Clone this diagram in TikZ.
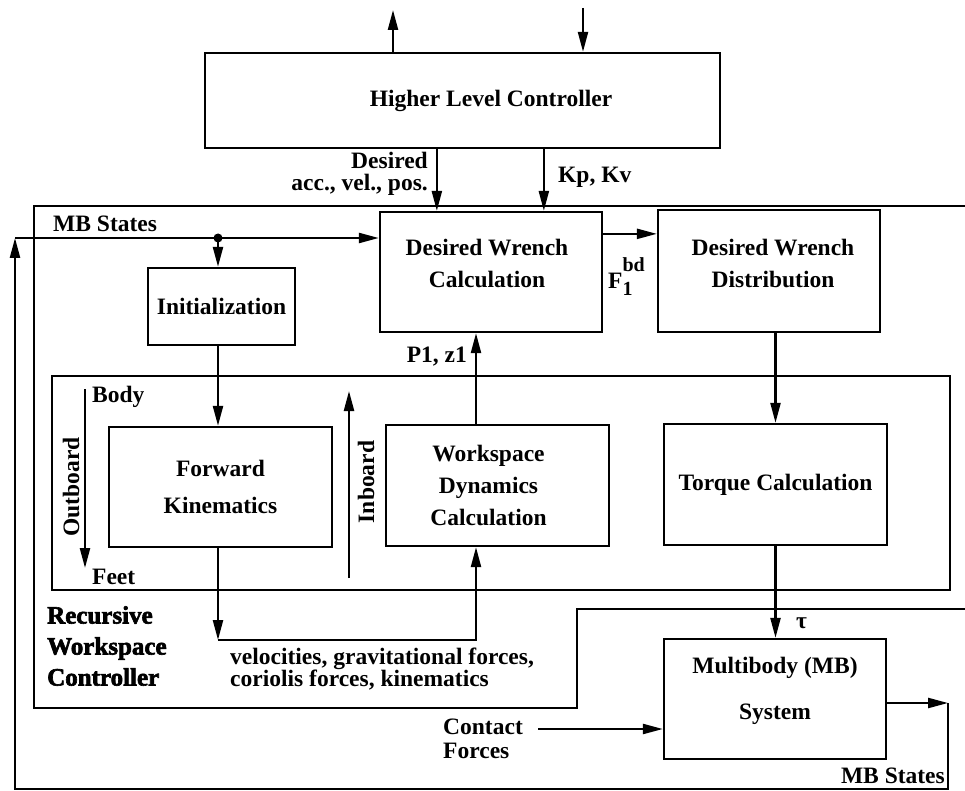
\documentclass[tikz,border=0pt]{standalone}
\usepackage{fontspec}
\setmainfont{Liberation Serif}
\newfontfamily\scanfont{Liberation Serif Bold}
\newfontfamily\headfont{Liberation Serif Bold}[FakeBold=2.5]
\usetikzlibrary{arrows.meta}

\newcommand{\boxfont}{\scanfont\fontsize{23.5}{32}\selectfont}
\newcommand{\notefont}{\scanfont\fontsize{23.5}{22}\selectfont}

\tikzset{
  block/.style={draw, line width=2.3pt, inner sep=0pt, align=center, font=\boxfont},
  boxtext/.style={inner sep=0pt, align=center, font=\boxfont},
  note/.style={inner sep=0pt, font=\notefont},
  sig/.style={line width=2.3pt, -{Triangle[length=20pt,width=10pt]}},
  wire/.style={line width=2.3pt},
}

\begin{document}
\begin{tikzpicture}[x=1pt, y=-1pt]
  \path[fill=white] (0,0) rectangle (965,791);
  \useasboundingbox (0,0) rectangle (965,791);

  % blocks
  \node[block, minimum width=515, minimum height=95,
        label={[boxtext, xshift=28.5]center:Higher Level Controller}] (hlc) at (462.5,100.5) {};
  \node[block, minimum width=222, minimum height=120,
        label={[boxtext, yshift=9, xshift=-4]center:{Desired Wrench\\Calculation}}] (dwc) at (491,272) {};
  \node[block, minimum width=222, minimum height=122,
        label={[boxtext, yshift=8, xshift=4]center:{Desired Wrench\\Distribution}}] (dwd) at (769,271) {};
  \node[block, minimum width=147, minimum height=77] (init) at (221.5,306.5) {Initialization};
  \node[draw, line width=2.3pt, minimum width=898, minimum height=214] (rec) at (501,483) {};
  \node[block, minimum width=223, minimum height=120] (fk) at (220.5,487) {Forward\\[5pt]Kinematics};
  \node[block, minimum width=223, minimum height=121,
        label={[boxtext, xshift=-9]center:{Workspace\\Dynamics\\Calculation}}] (wdc) at (497.5,485.5) {};
  \node[block, minimum width=223, minimum height=121] (tq) at (775.5,484.5) {Torque Calculation};
  \node[block, minimum width=222, minimum height=120,
        label={[boxtext, yshift=8]center:{Multibody (MB)\\[14pt]System}}] (mb) at (775,699) {};

  % controller boundary
  \draw[wire] (965,609) -- (577,609) -- (577,708) -- (34,708) -- (34,206) -- (965,206);

  % points
  \coordinate (out1) at (393,10);
  \coordinate (in1) at (583,8);
  \coordinate (dacc) at ([xshift=58]dwc.north west);
  \coordinate (dkp) at ([xshift=165]dwc.north west);
  \coordinate (fout) at ([yshift=-23]dwc.north east);
  \coordinate (fbtop) at (15,238);
  \coordinate (split) at (218,238);
  \coordinate (body) at (85,389);
  \coordinate (feet) at (85,568);
  \coordinate (inbot) at (349,578);
  \coordinate (intop) at (349,391);
  \coordinate (vcorner) at (218,640);
  \coordinate (wdbot) at ([xshift=-21.5]wdc.south);
  \coordinate (wdtop) at ([xshift=-21.5]wdc.north);
  \coordinate (mbout) at ([yshift=-4]mb.east);
  \coordinate (fbcorner) at (948,703);
  \coordinate (fbbot) at (15,789);
  \coordinate (cfin) at (538,729);

  % signals
  \draw[sig] (hlc.north -| out1) -- (out1);
  \draw[sig] (in1) -- (hlc.north -| in1);
  \draw[sig] (hlc.south -| dacc) -- (dacc);
  \draw[sig] (hlc.south -| dkp) -- (dkp);
  \draw[sig] (fout) -- (fout -| dwd.west);
  \draw[sig] (fbtop) -- (fbtop -| dwc.west);
  \fill (split) circle (4.5);
  \draw[sig] (split) -- (split |- init.north);
  \draw[sig] (init.south -| split) -- (fk.north -| split);
  \draw[sig] (body) -- (feet);
  \draw[sig] (inbot) -- (intop);
  \draw[sig] (fk.south -| vcorner) -- (vcorner);
  \draw[sig] (vcorner) -- (vcorner -| wdbot) -- (wdbot);
  \draw[sig] (wdtop) -- (wdtop |- dwc.south);
  \draw[sig] (dwd.south -| tq.north) -- (tq.north);
  \draw[sig] (tq.south) -- (tq.south |- mb.north);
  \draw[sig] (cfin) -- (cfin -| mb.west);
  \draw[sig] (mbout) -- (fbcorner);
  \draw[sig] (fbcorner) |- (fbbot) -- (fbtop);

  % labels
  \node[note, anchor=base west] (lmb1) at (53,232) {MB States};
  \node[note, anchor=north east, align=right] (lacc) at (428,152) {Desired\\acc., vel., pos.};
  \node[note, anchor=base west] (lkp) at (558,183) {Kp, Kv};
  \node[note, anchor=base west] (lf) at (608,288)
    {F\rlap{\raisebox{-7pt}{\fontsize{20}{20}\selectfont 1}}\raisebox{17pt}{\fontsize{20}{20}\selectfont bd}};
  \node[note, anchor=base east] (lpz) at (467,362) {P1, z1};
  \node[note, anchor=base west] (lbody) at (92,402) {Body};
  \node[note, anchor=base west] (lfeet) at (92,584) {Feet};
  \node[note, rotate=90] (lout) at (71,487) {Outboard};
  \node[note, rotate=90] (lin) at (366,482) {Inboard};
  \node[inner sep=0pt, anchor=north west, align=left, font=\headfont\fontsize{25}{31}\selectfont] (lrwc) at (47,606)
    {Recursive\\Workspace\\Controller};
  \node[note, anchor=north west, align=left] (lvel) at (230,648)
    {velocities, gravitational forces,\\coriolis forces, kinematics};
  \node[note, anchor=base west] (ltau) at (796,628) {τ};
  \node[note, anchor=north west, align=left] (lcf) at (443,718.5) {Contact\\[2pt]Forces};
  \node[note, anchor=base east] (lmb2) at (945,783) {MB States};
\end{tikzpicture}
\end{document}
